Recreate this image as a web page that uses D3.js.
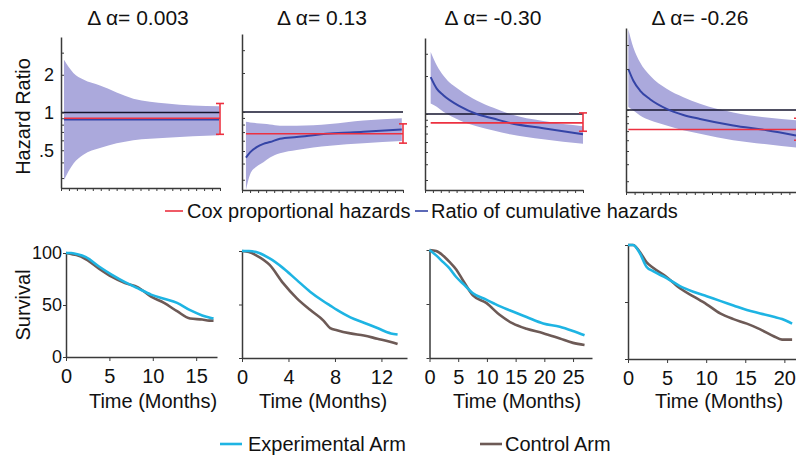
<!DOCTYPE html>
<html>
<head>
<meta charset="utf-8">
<script src="https://cdn.jsdelivr.net/npm/d3@7"></script>
<style>
  html, body { margin: 0; padding: 0; background: #fff; }
  svg { display: block; font-family: "Liberation Sans", Arial, Helvetica, sans-serif; }
</style>
</head>
<body>
<svg id="chart" width="796" height="458"></svg>
<script>
// ---------- data ----------
const panelTitles = ["Δ α= 0.003", "Δ α= 0.13", "Δ α= -0.30", "Δ α= -0.26"];

// hazard ratio over follow-up time (months): ratio of cumulative hazards and its band
const hrSpan = [17, 13.4, 27, 21.5];
const hrTime = [
  [0.32, 1.32, 2.39, 4.17, 7.73, 11.3, 16.9],
  [0.33, 0.67, 1.22, 1.78, 2.33, 3.16, 4.55, 7.32, 10.1, 13.3],
  [0.97, 2.0, 3.13, 5.98, 8.83, 11.7, 14.5, 20.2, 27.0],
  [0.29, 0.92, 1.75, 3.0, 5.08, 7.17, 9.25, 13.4, 17.6, 21.25]
];
const hrRatio = [
  [0.88, 0.88, 0.88, 0.88, 0.88, 0.88, 0.88],
  [0.445, 0.488, 0.535, 0.568, 0.586, 0.622, 0.641, 0.682, 0.703, 0.734],
  [1.96, 1.59, 1.41, 1.15, 1.0, 0.92, 0.85, 0.77, 0.69],
  [2.0, 1.64, 1.39, 1.20, 1.02, 0.92, 0.86, 0.77, 0.71, 0.65]
];
const hrLower = [
  [0.29, 0.39, 0.46, 0.52, 0.60, 0.63, 0.66],
  [0.25, 0.33, 0.38, 0.41, 0.445, 0.48, 0.51, 0.55, 0.575, 0.597],
  [1.21, 1.14, 1.04, 0.89, 0.80, 0.74, 0.69, 0.63, 0.58],
  [1.05, 0.99, 0.91, 0.84, 0.77, 0.71, 0.67, 0.60, 0.56, 0.53]
];
const hrUpper = [
  [2.63, 2.07, 1.83, 1.64, 1.29, 1.18, 1.12],
  [0.84, 0.83, 0.82, 0.81, 0.80, 0.784, 0.784, 0.808, 0.859, 0.893],
  [3.1, 2.43, 2.02, 1.54, 1.28, 1.12, 1.0, 0.88, 0.80],
  [3.9, 2.88, 2.24, 1.79, 1.43, 1.24, 1.11, 0.96, 0.88, 0.84]
];
// Cox proportional hazards estimate with 95% interval
const coxHR    = [0.90, 0.68, 0.85, 0.72];
const coxLower = [0.67, 0.575, 0.73, 0.60];
const coxUpper = [1.18, 0.81, 1.02, 0.87];

const hrTickValues = [3, 2, 1, 0.9, 0.8, 0.7, 0.6, 0.5, 0.4, 0.3];
const hrTickLabels = [2, 1, 0.5];

// Kaplan-Meier survival (%) by arm
const survSpan = [17.4, 14.2, 28.3, 22];
const survTicks = [[0, 5, 10, 15], [0, 4, 8, 12], [0, 5, 10, 15, 20, 25], [0, 5, 10, 15, 20]];
const survTime = [
  [0, 0.6, 1.2, 2.3, 3.8, 5.3, 6.8, 8.3, 9.8, 11.3, 12.8, 14.3, 15.7, 16.5, 17.0],
  [0, 0.6, 1.22, 2.38, 3.54, 4.7, 5.86, 7.01, 7.59, 8.17, 9.33, 10.49, 11.65, 12.81, 13.39],
  [0, 1.16, 2.33, 3.49, 4.65, 5.81, 7.56, 9.88, 12.2, 14.5, 16.9, 19.8, 22.7, 25.0, 27.0],
  [0, 0.64, 1.5, 2.36, 3.21, 4.93, 6.64, 8.35, 10.06, 11.78, 13.49, 15.2, 16.92, 18.63, 19.7, 20.99]
];
const expSurv = [
  [100, 100, 99, 96, 87, 79, 72, 66, 60, 56, 52, 45, 40, 38, 37],
  [100, 100, 99, 93, 84, 73, 62, 53, 49, 45, 38, 33, 28, 23, 22],
  [100, 95, 89, 83, 75, 69, 60, 54, 48, 43, 38, 32, 29, 25, 21],
  [100, 100, 93, 81, 77, 71, 64, 59, 55, 51, 47, 43, 40, 37, 35, 31]
];
const ctrlSurv = [
  [100, 99, 98, 94, 85, 77, 71, 67, 58, 52, 44, 37, 36, 35, 35],
  [100, 99, 96, 87, 70, 56, 45, 35, 28, 26, 23, 21, 18, 15, 13],
  [100, 99, 95, 89, 82, 72, 58, 51, 40, 32, 27, 23, 18, 14, 12],
  [100, 100, 94, 85, 80, 72, 62, 55, 48, 40, 35, 31, 26, 20, 17, 17]
];
const survTickLabels = [0, 50, 100];

const hrLegend = ["Cox proportional hazards", "Ratio of cumulative hazards"];
const armLegend = ["Experimental Arm", "Control Arm"];

// ---------- layout & style ----------
const topBoxes = [
  { left: 61,  right: 220, top: 37, bottom: 188, titleX: 138 },
  { left: 242, right: 403, top: 34, bottom: 190, titleX: 322 },
  { left: 425, right: 583, top: 38, bottom: 190, titleX: 493 },
  { left: 626, right: 798, top: 28, bottom: 192, titleX: 700 }
];
const botBoxes = [
  { left: 66,    right: 217, top: 253, bottom: 357, labelX: 153 },
  { left: 242,   right: 407, top: 251, bottom: 358, labelX: 323 },
  { left: 429.5, right: 592, top: 250, bottom: 358, labelX: 517 },
  { left: 628,   right: 800, top: 245, bottom: 359, labelX: 719 }
];
const C = {
  band: "#aba9dc",
  ratio: "#3444a6",
  cox: "#ec3140",
  ref: "#14142e",
  axis: "#3a3a3a",
  exp: "#1eb4e3",
  ctrl: "#6d5a56",
  text: "#111111"
};

const svg = d3.select("#chart");

function styleAxis(g) {
  g.select(".domain").attr("stroke", C.axis).attr("stroke-width", 1.5);
  g.selectAll(".tick line").attr("stroke", C.axis).attr("stroke-width", 1);
  g.selectAll(".tick text").attr("fill", C.text).attr("font-family", null);
}

// ---------- hazard ratio panels ----------
topBoxes.forEach((b, i) => {
  const x = d3.scaleLinear().domain([0, hrSpan[i]]).range([b.left, b.right]);
  const y = d3.scaleLog().domain([0.25, 4]).range([b.bottom, b.top]);
  const g = svg.append("g");

  const clipId = "hrclip" + i;
  svg.append("clipPath").attr("id", clipId)
    .append("rect").attr("x", b.left).attr("y", b.top)
    .attr("width", b.right - b.left + 10).attr("height", b.bottom - b.top);

  const pts = hrTime[i].map((t, k) => ({ t, r: hrRatio[i][k], lo: hrLower[i][k], hi: hrUpper[i][k] }));
  const plot = g.append("g").attr("clip-path", `url(#${clipId})`);

  plot.append("path").datum(pts)
    .attr("fill", C.band)
    .attr("d", d3.area().x(d => x(d.t)).y0(d => y(d.lo)).y1(d => y(d.hi)).curve(d3.curveMonotoneX));

  plot.append("line")
    .attr("x1", b.left).attr("x2", b.right)
    .attr("y1", y(1)).attr("y2", y(1))
    .attr("stroke", C.ref).attr("stroke-width", 1.5);

  plot.append("path").datum(pts)
    .attr("fill", "none").attr("stroke", C.ratio).attr("stroke-width", 2)
    .attr("d", d3.line().x(d => x(d.t)).y(d => y(d.r)).curve(d3.curveMonotoneX));

  // Cox estimate and its interval at the end of follow-up
  plot.append("line")
    .attr("x1", x(hrTime[i][0])).attr("x2", x(hrSpan[i]))
    .attr("y1", y(coxHR[i])).attr("y2", y(coxHR[i]))
    .attr("stroke", C.cox).attr("stroke-width", 1.6);
  const ex = x(hrSpan[i]);
  const eb = g.append("g").attr("stroke", C.cox).attr("stroke-width", 1.6);
  eb.append("line").attr("x1", ex).attr("x2", ex).attr("y1", y(coxLower[i])).attr("y2", y(coxUpper[i]));
  [coxLower[i], coxUpper[i]].forEach(v => {
    eb.append("line").attr("x1", ex - 4).attr("x2", ex + 4).attr("y1", y(v)).attr("y2", y(v));
  });

  const yAxis = g.append("g").attr("transform", `translate(${b.left},0)`)
    .call(d3.axisLeft(y).tickValues(hrTickValues).tickSize(-3).tickSizeOuter(0).tickFormat(""));
  styleAxis(yAxis);
  const xAxis = g.append("g").attr("transform", `translate(0,${b.bottom})`)
    .call(d3.axisBottom(x).tickValues(d3.range(21).map(k => k * hrSpan[i] / 20))
      .tickSize(3).tickSizeOuter(0).tickFormat(""));
  styleAxis(xAxis);

  if (i === 0) {
    g.selectAll(".hrlab").data(hrTickLabels).enter().append("text")
      .attr("x", b.left - 7).attr("y", d => y(d)).attr("dy", "0.35em")
      .attr("text-anchor", "end").attr("font-size", 18).attr("fill", C.text)
      .text(d => d === 0.5 ? ".5" : String(d));
    g.append("text")
      .attr("transform", `translate(30,${(b.top + b.bottom) / 2 + 4}) rotate(-90)`)
      .attr("text-anchor", "middle").attr("font-size", 20).attr("fill", C.text)
      .text("Hazard Ratio");
  }

  g.append("text").attr("x", b.titleX).attr("y", 25)
    .attr("text-anchor", "middle").attr("font-size", 21).attr("fill", C.text)
    .text(panelTitles[i]);
});

// legend for the hazard ratio row
(function () {
  const g = svg.append("g").attr("font-size", 20).attr("fill", C.text);
  g.append("line").attr("x1", 165).attr("x2", 183).attr("y1", 211).attr("y2", 211)
    .attr("stroke", C.cox).attr("stroke-width", 1.6);
  g.append("text").attr("x", 187).attr("y", 218).text(hrLegend[0]);
  g.append("line").attr("x1", 415).attr("x2", 428).attr("y1", 211).attr("y2", 211)
    .attr("stroke", C.ratio).attr("stroke-width", 1.6);
  g.append("text").attr("x", 431).attr("y", 218).text(hrLegend[1]);
})();

// ---------- survival panels ----------
botBoxes.forEach((b, i) => {
  const x = d3.scaleLinear().domain([0, survSpan[i]]).range([b.left, b.right]);
  const y = d3.scaleLinear().domain([0, 100]).range([b.bottom, b.top]);
  const g = svg.append("g");

  const line = d3.line().x(d => x(d[0])).y(d => y(d[1])).curve(d3.curveMonotoneX);
  const ctrl = survTime[i].map((t, k) => [t, ctrlSurv[i][k]]);
  const exp = survTime[i].map((t, k) => [t, expSurv[i][k]]);

  const yAxis = g.append("g").attr("transform", `translate(${b.left},0)`)
    .call(d3.axisLeft(y).tickValues(survTickLabels).tickSize(3).tickPadding(1).tickSizeOuter(0)
      .tickFormat(i === 0 ? d3.format("d") : ""));
  styleAxis(yAxis);
  yAxis.selectAll(".tick text").attr("font-size", 18);

  const xAxis = g.append("g").attr("transform", `translate(0,${b.bottom})`)
    .call(d3.axisBottom(x).tickValues(survTicks[i]).tickSize(4).tickPadding(8).tickSizeOuter(0)
      .tickFormat(d3.format("d")));
  styleAxis(xAxis);
  xAxis.selectAll(".tick text").attr("font-size", 20);

  g.append("path").datum(ctrl).attr("fill", "none").attr("stroke", C.ctrl)
    .attr("stroke-width", 2.6).attr("d", line);
  g.append("path").datum(exp).attr("fill", "none").attr("stroke", C.exp)
    .attr("stroke-width", 2.6).attr("d", line);

  g.append("text").attr("x", b.labelX).attr("y", 408)
    .attr("text-anchor", "middle").attr("font-size", 20).attr("fill", C.text)
    .text("Time (Months)");

  if (i === 0) {
    g.append("text")
      .attr("transform", `translate(30,${(b.top + b.bottom) / 2}) rotate(-90)`)
      .attr("text-anchor", "middle").attr("font-size", 20).attr("fill", C.text)
      .text("Survival");
  }
});

// legend for the survival row
(function () {
  const g = svg.append("g").attr("font-size", 20).attr("fill", C.text);
  g.append("line").attr("x1", 220).attr("x2", 242).attr("y1", 444).attr("y2", 444)
    .attr("stroke", C.exp).attr("stroke-width", 2.6);
  g.append("text").attr("x", 248).attr("y", 451).text(armLegend[0]);
  g.append("line").attr("x1", 480).attr("x2", 502).attr("y1", 444).attr("y2", 444)
    .attr("stroke", C.ctrl).attr("stroke-width", 2.6);
  g.append("text").attr("x", 505).attr("y", 451).text(armLegend[1]);
})();
</script>
</body>
</html>
